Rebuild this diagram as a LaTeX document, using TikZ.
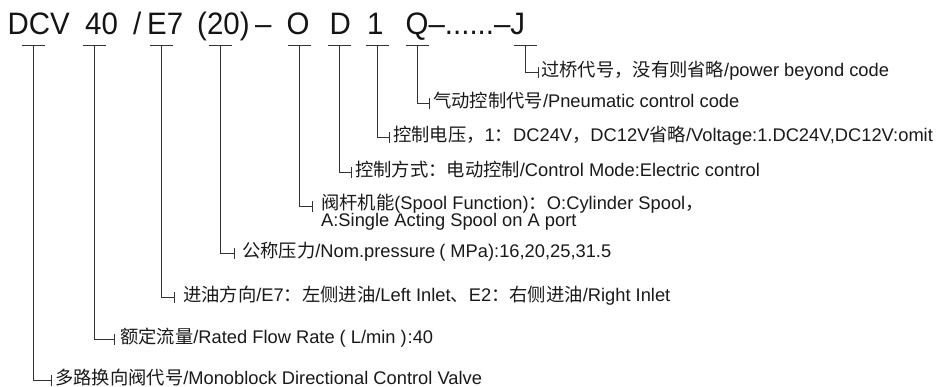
\documentclass[tikz,border=0pt]{standalone}
\usepackage{fontspec}
\setmainfont{Liberation Sans}
\newfontfamily\cjk{Noto Sans CJK SC}
\newfontfamily\ttlfont[FakeStretch=0.95]{Liberation Sans}
\newcommand\zh[1]{{\cjk #1}}
\begin{document}
\begin{tikzpicture}[x=1pt,y=-1pt,
  lbl/.style={anchor=base west,inner sep=0pt,text=black!90,font=\fontsize{18.3}{18.3}\selectfont},
  ttl/.style={anchor=base west,inner sep=0pt,text=black!92,font=\ttlfont\fontsize{31}{31}\selectfont},
  ln/.style={draw=black!80,line width=0.8pt}]
\useasboundingbox (0,0) rectangle (950,387);
% title
\node[ttl] (tDCV) at (7.5,35) {DCV};
\node[ttl] (t40) at (85,35) {40};
\node[ttl] (tsl) at (133,35) {/};
\node[ttl] (tE7) at (147,35) {E7};
\node[ttl] (t20) at (197,35) {(20)};
\node[ttl] (tda) at (255,35) {–};
\node[ttl] (tO) at (286.5,35) {O};
\node[ttl] (tD) at (329.5,35) {D};
\node[ttl] (t1) at (367,35) {1};
\node[ttl] (tQ) at (405.5,35) {Q–......–J};
% top points of the callouts
\foreach \n/\x in {DCV/33,40/94,E7/161,20/220,O/299,D/339,1/377,Q/417,J/525}{
  \coordinate (top\n) at (\x,45);
}
% corners / ticks
\foreach \n/\x/\y in {DCV/51/380,40/114/339,E7/174/297,20/234/253,O/312/206,D/351/172,1/389/137,Q/429/103,J/538/72}{
  \coordinate (c\n) at (\x,\y);
}
% labels
\node[lbl] (lJ) at (541,76.5) {\zh{过桥代号，没有则省略}/power beyond code};
\node[lbl] (lQ) at (433,107.5) {\zh{气动控制代号}/Pneumatic control code};
\node[lbl] (l1) at (393,141.5) {\zh{控制电压，}1\zh{：}DC24V\zh{，}DC12V\zh{省略}/Voltage:1.DC24V,DC12V:omit};
\node[lbl] (lD) at (355,176.5) {\zh{控制方式：电动控制}/Control Mode:Electric control};
\node[lbl] (lO) at (321,209.5) {\zh{阀杆机能}(Spool Function)\zh{：}O:Cylinder Spool\zh{，}};
\node[lbl] (lOb) at (321,227) {A:Single Acting Spool on A port};
\node[lbl] (l20) at (242,257.5) {\zh{公称压力}/Nom.pressure\hspace{4pt}(\hspace{5pt}MPa):16,20,25,31.5};
\node[lbl] (lE7) at (183,301.5) {\zh{进油方向}/E7\zh{：左侧进油}/Left Inlet\zh{、}E2\zh{：右侧进油}/Right Inlet};
\node[lbl] (l40) at (120,343.5) {\zh{额定流量}/Rated Flow Rate\hspace{5pt}(\hspace{5pt}L/min\hspace{5pt})\hspace{1pt}:40};
\node[lbl] (lDCV) at (55,384.5) {\zh{多路换向阀代号}/Monoblock Directional Control Valve};
% connectors
\foreach \n in {DCV,40,E7,20,O,D,1,Q,J}{
  \draw[ln] ([xshift=-11.5pt]top\n) -- ([xshift=11.5pt]top\n);
  \draw[ln] (top\n) |- (c\n);
  \draw[ln] ([yshift=-6pt]c\n) -- ([yshift=5pt]c\n);
}
\end{tikzpicture}
\end{document}
